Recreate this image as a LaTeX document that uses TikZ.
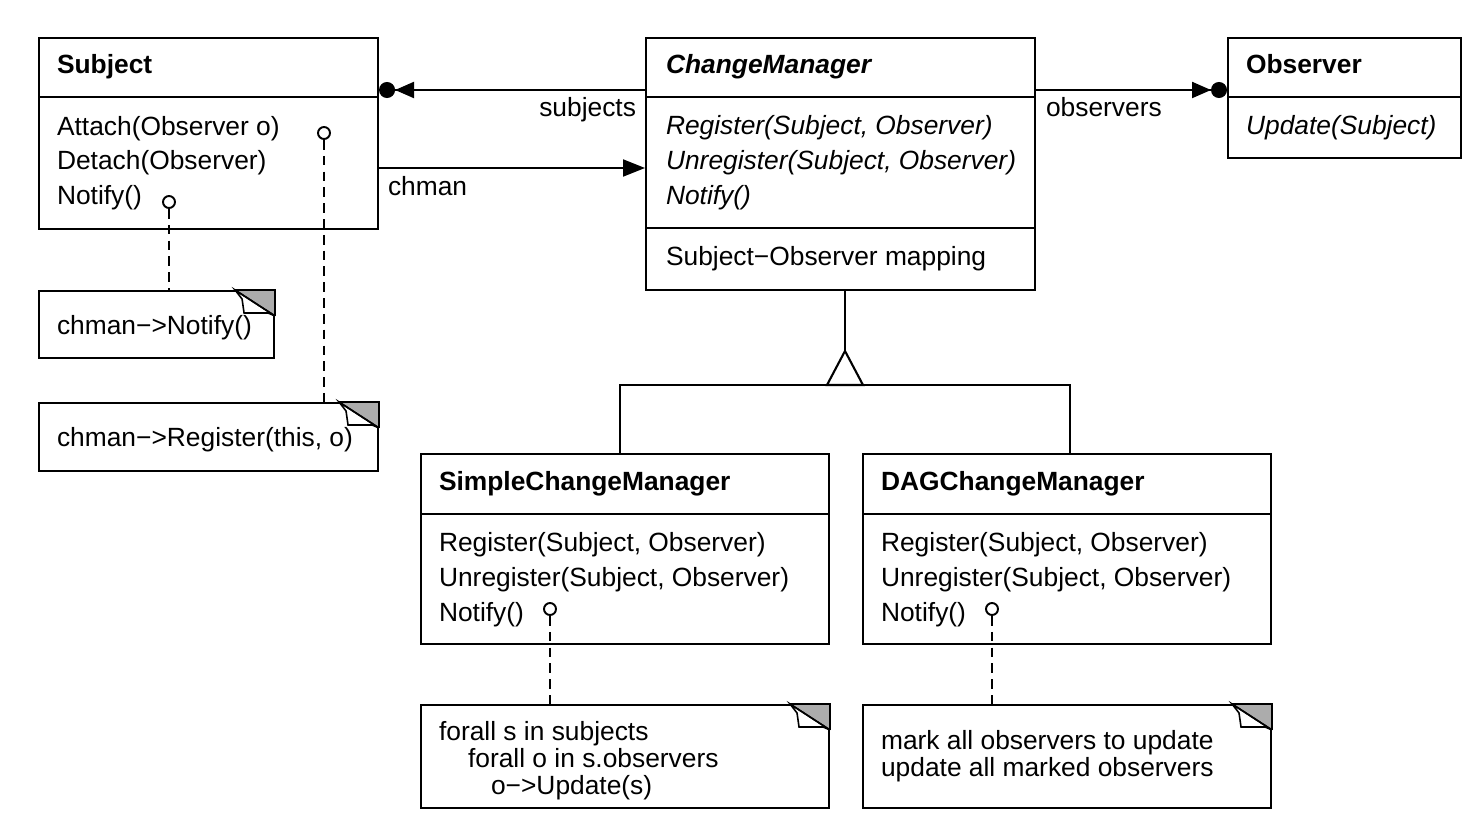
\documentclass[tikz,border=0pt]{standalone}
\usepackage{fontspec}
\setmainfont{Liberation Sans}
\usetikzlibrary{arrows.meta}
\begin{document}
\begin{tikzpicture}[x=0.02cm,y=-0.02cm,line width=1.2pt,
  classbox/.style={draw, rectangle, inner sep=0pt, anchor=north west, fill=white},
  txt/.style={anchor=base west, inner sep=0pt, font=\fontsize{15}{15}\selectfont},
  ttl/.style={txt, font=\fontsize{15}{15}\selectfont\bfseries},
  ittl/.style={txt, font=\fontsize{15}{15}\selectfont\bfseries\itshape},
  itxt/.style={txt, font=\fontsize{15}{15}\selectfont\itshape},
  lbl/.style={txt},
  pin/.style={draw, circle, inner sep=0pt, minimum size=0.24cm, fill=white, line width=1.1pt},
  notelink/.style={line width=1.1pt, dash pattern=on 5.5pt off 3.5pt},
  nav/.style={-{Triangle[length=0.44cm,width=0.34cm]}},
  many/.style={-{Triangle[length=0.38cm,width=0.32cm] Circle[length=0.32cm]}},
]
\path[use as bounding box, fill=white] (0,0) rectangle (1470,824);

% folded corner of a note box
\newcommand{\dogear}[1]{%
  \begin{scope}[shift={(#1.north east)}, line width=0.9pt]
    \fill[gray!65] (-40,0) -- (0,0) -- (0,26) -- cycle;
    \draw[fill=white] (-40,0) -- (-33,9) -- (-31,23) -- (-7,23) -- (0,26) -- cycle;
    \draw (-40,0) -- (0,26);
    \draw[line width=1.2pt] (-40,0) -- (0,0) -- (0,26);
  \end{scope}}

% ---------- Subject ----------
\node[classbox, minimum width=6.78cm, minimum height=3.82cm] (subject) at (38,37) {};
\draw (subject.north west) ++(0,60) -- ++(339,0);
\node[ttl] (subjT) at (56,74) {Subject};
\node[txt] (subjA) at (56,136) {Attach(Observer o)};
\node[txt] (subjD) at (56,170) {Detach(Observer)};
\node[txt] (subjN) at (56,205) {Notify()};

% ---------- ChangeManager ----------
\node[classbox, minimum width=7.78cm, minimum height=5.04cm] (cm) at (645,37) {};
\draw (cm.north west) ++(0,60) -- ++(389,0);
\draw (cm.north west) ++(0,191) -- ++(389,0);
\node[ittl] (cmT) at (665,74) {ChangeManager};
\node[itxt] (cmR) at (665,135) {Register(Subject, Observer)};
\node[itxt] (cmU) at (665,170) {Unregister(Subject, Observer)};
\node[itxt] (cmN) at (665,205) {Notify()};
\node[txt] (cmM) at (665,265) {Subject−Observer mapping};

% ---------- Observer ----------
\node[classbox, minimum width=4.66cm, minimum height=2.40cm] (obs) at (1227,37) {};
\draw (obs.north west) ++(0,60) -- ++(233,0);
\node[ttl] (obsT) at (1245,74) {Observer};
\node[itxt] (obsU) at (1245,135) {Update(Subject)};

% ---------- SimpleChangeManager ----------
\node[classbox, minimum width=8.16cm, minimum height=3.80cm] (scm) at (420,453) {};
\draw (scm.north west) ++(0,61) -- ++(408,0);
\node[ttl] (scmT) at (438,490) {SimpleChangeManager};
\node[txt] (scmR) at (438,551) {Register(Subject, Observer)};
\node[txt] (scmU) at (438,586) {Unregister(Subject, Observer)};
\node[txt] (scmN) at (438,621) {Notify()};

% ---------- DAGChangeManager ----------
\node[classbox, minimum width=8.16cm, minimum height=3.80cm] (dag) at (862,453) {};
\draw (dag.north west) ++(0,61) -- ++(408,0);
\node[ttl] (dagT) at (880,490) {DAGChangeManager};
\node[txt] (dagR) at (880,551) {Register(Subject, Observer)};
\node[txt] (dagU) at (880,586) {Unregister(Subject, Observer)};
\node[txt] (dagN) at (880,621) {Notify()};

% ---------- notes ----------
\node[classbox, minimum width=4.70cm, minimum height=1.34cm] (n1) at (38,290) {};
\node[txt] at (56,334) {chman−>Notify()};
\node[classbox, minimum width=6.78cm, minimum height=1.36cm] (n2) at (38,402) {};
\node[txt] at (56,446) {chman−>Register(this, o)};
\node[classbox, minimum width=8.16cm, minimum height=2.06cm] (n3) at (420,704) {};
\node[txt] at (438,740) {forall s in subjects};
\node[txt] at (467,767) {forall o in s.observers};
\node[txt] at (490,794) {o−>Update(s)};
\node[classbox, minimum width=8.16cm, minimum height=2.06cm] (n4) at (862,704) {};
\node[txt] at (880,749) {mark all observers to update};
\node[txt] at (880,776) {update all marked observers};
\dogear{n1}\dogear{n2}\dogear{n3}\dogear{n4}

% ---------- note links ----------
\node[pin] (p1) at (324,133) {};
\node[pin] (p2) at (169,202) {};
\node[pin] (p3) at (550,609) {};
\node[pin] (p4) at (992,609) {};
\draw[notelink] (p1.south) -- (p1 |- n2.north);
\draw[notelink] (p2.south) -- (p2 |- n1.north);
\draw[notelink] (p3.south) -- (p3 |- n3.north);
\draw[notelink] (p4.south) -- (p4 |- n4.north);

% ---------- associations ----------
\coordinate (yS) at (0,90);
\coordinate (yC) at (0,168);
\draw[many] (cm.west |- yS) -- (subject.east |- yS);
\draw[nav] (subject.east |- yC) -- (cm.west |- yC);
\draw[many] (cm.east |- yS) -- (obs.west |- yS);
\node[lbl, anchor=base east] (lS) at (637,117) {subjects};
\node[lbl] (lC) at (387,195) {chman};
\node[lbl] (lO) at (1045,117) {observers};

% ---------- generalization ----------
\coordinate (apex) at (845,351);
\draw (cm.south -| apex) -- (apex);
\draw (apex) -- ++(-18,34) -- ++(36,0) -- cycle;
\draw (scm.north -| 620,0) -- (620,385) -- (1070,385) -- (dag.north -| 1070,0);
\end{tikzpicture}
\end{document}
